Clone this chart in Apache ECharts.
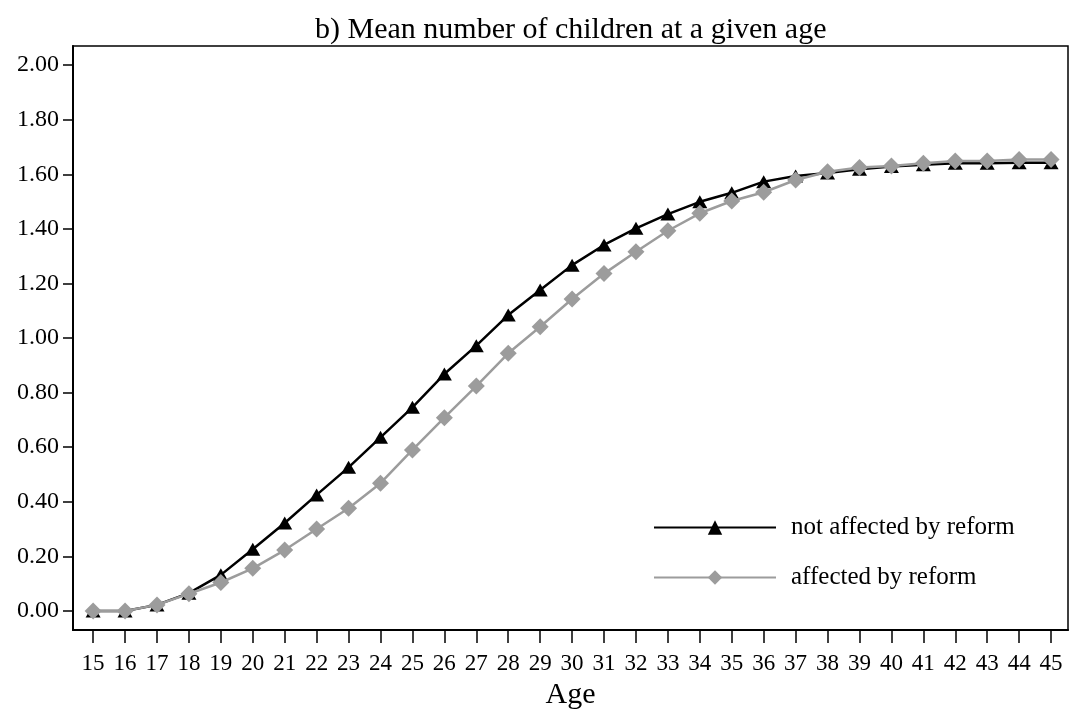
<!DOCTYPE html>
<html><head><meta charset="utf-8">
<script src="https://cdn.jsdelivr.net/npm/echarts@6/dist/echarts.min.js"></script>
<style>html,body{margin:0;padding:0;background:#fff}#c{width:1073px;height:709px}</style>
</head><body><div id="c"></div>
<script>
const ages = [15,16,17,18,19,20,21,22,23,24,25,26,27,28,29,30,31,32,33,34,35,36,37,38,39,40,41,42,43,44,45];
const notAffected = [0.00,0.00,0.022,0.065,0.132,0.226,0.322,0.425,0.526,0.636,0.746,0.868,0.972,1.084,1.176,1.267,1.341,1.402,1.454,1.499,1.532,1.573,1.594,1.605,1.618,1.628,1.635,1.640,1.640,1.642,1.642];
const affected = [0.00,0.00,0.022,0.063,0.104,0.156,0.223,0.300,0.376,0.468,0.590,0.708,0.824,0.944,1.041,1.143,1.236,1.316,1.393,1.457,1.502,1.534,1.579,1.609,1.625,1.630,1.640,1.649,1.649,1.654,1.654];
const yTicks = [0,0.2,0.4,0.6,0.8,1.0,1.2,1.4,1.6,1.8,2.0];
const seriesNames = ['not affected by reform','affected by reform'];
const titleText = 'b) Mean number of children at a given age';
const xName = 'Age';

const font = 'Liberation Serif';
const chart = echarts.init(document.getElementById('c'));
chart.setOption({
  animation:false,
  backgroundColor:'#fff',
  title:{text:titleText,left:310,top:10,textStyle:{fontFamily:font,fontSize:30,fontWeight:'normal',color:'#000'}},
  grid:{left:73,right:5,top:46,bottom:79,outerBoundsMode:'none',containLabel:false,show:true,borderColor:'#000',borderWidth:1.5,backgroundColor:'transparent'},
  legend:{
    orient:'vertical',left:648,top:510,itemWidth:122,itemHeight:18,itemGap:25,
    textStyle:{fontFamily:font,fontSize:25,color:'#000',padding:[0,0,0,10]},
    data:[{name:seriesNames[0]},{name:seriesNames[1]}]
  },
  xAxis:{type:'value',min:14.37,max:45.53,
    name:xName,nameLocation:'middle',nameGap:47,nameTextStyle:{fontFamily:font,fontSize:30,color:'#000'},
    axisLine:{onZero:false,lineStyle:{color:'#000',width:2}},
    axisTick:{show:true,length:13,inside:false,lineStyle:{color:'#000',width:1.5},customValues:ages},
    axisLabel:{fontFamily:font,fontSize:23,color:'#000',margin:22,customValues:ages},
    splitLine:{show:false}},
  yAxis:{type:'value',min:-0.07,max:2.07,
    axisLine:{show:true,onZero:false,lineStyle:{color:'#000',width:2}},
    axisTick:{show:true,length:10,lineStyle:{color:'#000',width:1.5},customValues:yTicks},
    axisLabel:{fontFamily:font,fontSize:24,color:'#000',margin:14,customValues:yTicks,formatter:v=>v.toFixed(2)},
    splitLine:{show:false}},
  series:[
    {name:seriesNames[0],type:'line',data:ages.map((a,i)=>[a,notAffected[i]]),
      symbol:'triangle',symbolSize:[15,13],lineStyle:{color:'#000',width:2.5},itemStyle:{color:'#000'},z:2},
    {name:seriesNames[1],type:'line',data:ages.map((a,i)=>[a,affected[i]]),
      symbol:'diamond',symbolSize:[17,17],lineStyle:{color:'#9c9c9c',width:2.5},itemStyle:{color:'#9c9c9c'},z:3}
  ]
});
</script></body></html>
